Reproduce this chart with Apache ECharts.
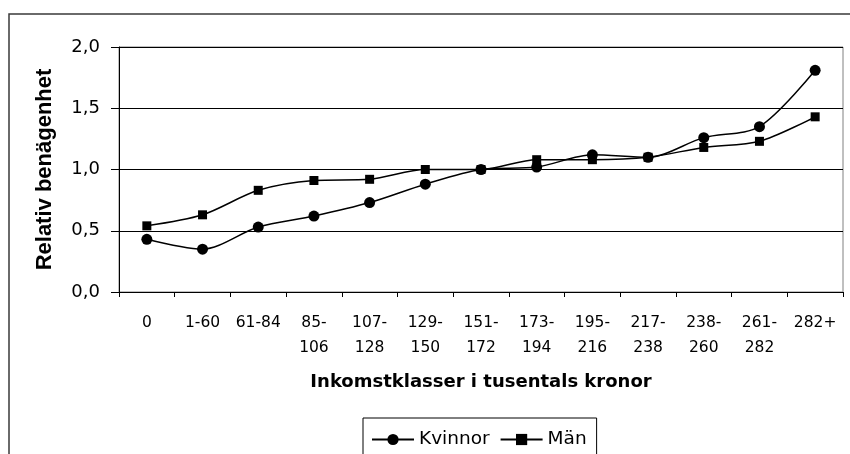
<!DOCTYPE html>
<html>
<head>
<meta charset="utf-8">
<script src="https://cdn.jsdelivr.net/npm/echarts@6/dist/echarts.min.js"></script>
<style>
html,body{margin:0;padding:0;background:#fff;}
#c{width:850px;height:454px;}
</style>
</head>
<body>
<div id="c"></div>
<script>
const categories = ['0','1-60','61-84','85-\n106','107-\n128','129-\n150','151-\n172','173-\n194','195-\n216','217-\n238','238-\n260','261-\n282','282+'];
const kvinnor = [0.43,0.35,0.53,0.62,0.73,0.88,1.00,1.02,1.12,1.10,1.26,1.35,1.81];
const man = [0.54,0.63,0.83,0.91,0.92,1.00,1.00,1.08,1.08,1.10,1.18,1.23,1.43];
const yTicks = [0,0.5,1,1.5,2];

const chart = echarts.init(document.getElementById('c'));
chart.setOption({
  backgroundColor:'#fff',
  animation:false,
  graphic:[{
    type:'rect', shape:{x:9,y:14,width:900,height:500},
    style:{fill:'none',stroke:'#3a3a3a',lineWidth:1.5}, z:-1
  },{
    type:'rect', shape:{x:119,y:47,width:724,height:245},
    style:{fill:'none',stroke:'#808080',lineWidth:1}, z:0
  }],
  grid:{left:119,right:7,top:47,bottom:162,containLabel:false},
  legend:{
    left:363, top:418,
    data:['Kvinnor','Män'],
    borderColor:'#000', borderWidth:1,
    padding:[12,10,12,8],
    itemWidth:42, itemHeight:14, itemGap:10,
    textStyle:{fontFamily:'DejaVu Sans',fontSize:18.5,color:'#000'}
  },
  xAxis:{
    type:'category', data:categories, boundaryGap:true,
    axisLine:{lineStyle:{color:'#000',width:1}},
    axisTick:{show:true,length:5,lineStyle:{color:'#000'}},
    axisLabel:{interval:0,fontFamily:'DejaVu Sans',fontSize:15.5,color:'#000',lineHeight:25,margin:18},
    name:'Inkomstklasser i tusentals kronor',
    nameLocation:'middle', nameGap:81,
    nameTextStyle:{fontFamily:'DejaVu Sans',fontWeight:'bold',fontSize:18,color:'#000'}
  },
  yAxis:{
    type:'value', min:0, max:2, interval:0.5,
    axisLine:{show:true,lineStyle:{color:'#000',width:1}},
    axisTick:{show:true,length:8,lineStyle:{color:'#000'}},
    splitLine:{show:true,lineStyle:{color:'#000',width:1}},
    axisLabel:{fontFamily:'DejaVu Sans',fontSize:18,color:'#000',margin:19,
      formatter:function(v){return v.toFixed(1).replace('.',',');}},
    name:'Relativ benägenhet',
    nameLocation:'middle', nameGap:63, nameRotate:90,
    nameTextStyle:{fontFamily:'Liberation Sans',fontWeight:'bold',fontSize:22,color:'#000'}
  },
  series:[{
    name:'Kvinnor', type:'line', data:kvinnor, smooth:0.3,
    symbol:'circle', symbolSize:11,
    lineStyle:{color:'#000',width:1.5},
    itemStyle:{color:'#000'}
  },{
    name:'Män', type:'line', data:man, smooth:0.3,
    symbol:'rect', symbolSize:9,
    lineStyle:{color:'#000',width:1.5},
    itemStyle:{color:'#000'}
  }]
});
</script>
</body>
</html>
